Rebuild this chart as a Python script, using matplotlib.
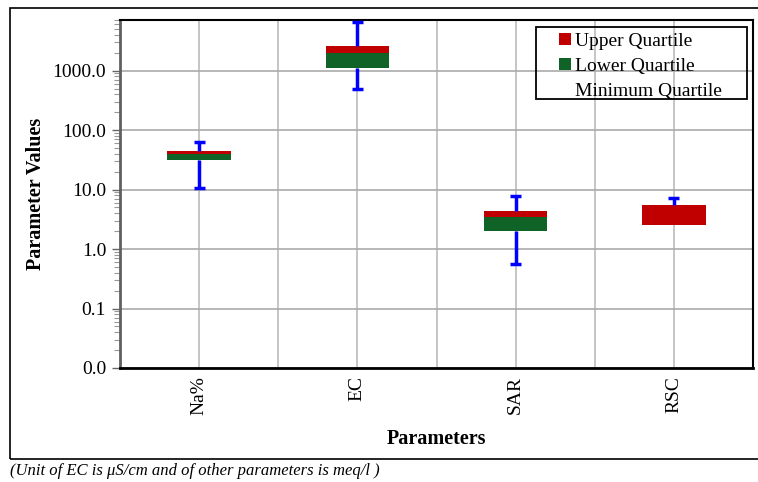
import numpy as np
import matplotlib
matplotlib.use('Agg')
import matplotlib.pyplot as plt
from matplotlib.patches import Patch, Rectangle
from matplotlib.ticker import FormatStrFormatter, LogLocator, FixedLocator

plt.rcParams['font.family'] = ['Liberation Serif', 'DejaVu Serif']

params = ['Na%', 'EC', 'SAR', 'RSC']
q1 = [31.3, 1089, 1.98, 2.55]
median = [40.1, 1941, 3.47, 2.55]
q3 = [45.0, 2643, 4.28, 5.4]
vmin = [10.8, 484, 0.567, 2.55]
vmax = [62.0, 6600, 7.93, 7.23]

red = '#C00000'
green = '#0F6326'
blue = '#0000FF'

fig = plt.figure(figsize=(7.58, 4.82), dpi=100)
ax = fig.add_axes([120/758, 1-368/482, 633/758, 348/482])

x = np.arange(len(params))
q1 = np.array(q1); median = np.array(median); q3 = np.array(q3)
vmin = np.array(vmin); vmax = np.array(vmax)

ax.bar(x, median - q1, bottom=q1, width=0.4, color=green, zorder=2)
ax.bar(x, q3 - median, bottom=median, width=0.4, color=red, zorder=2)

# whiskers: Q3 -> max and Q1 -> min, with caps only at the far end
cap = 0.035
up = vmax > q3
ax.vlines(x[up], q3[up], vmax[up], color=blue, linewidth=2.5, zorder=3)
ax.hlines(vmax[up], x[up] - cap, x[up] + cap, color=blue, linewidth=2.5, zorder=3)
lo = vmin < q1
ax.vlines(x[lo], vmin[lo], q1[lo], color=blue, linewidth=2.5, zorder=3)
ax.hlines(vmin[lo], x[lo] - cap, x[lo] + cap, color=blue, linewidth=2.5, zorder=3)

ax.set_yscale('log')
ax.set_ylim(0.01, 7100)
ax.set_xlim(-0.5, 3.5)
ax.yaxis.set_major_locator(FixedLocator([0.01, 0.1, 1, 10, 100, 1000]))
ax.yaxis.set_major_formatter(FormatStrFormatter('%.1f'))
ax.yaxis.set_minor_locator(LogLocator(base=10, subs=np.arange(2, 10), numticks=20))
ax.tick_params(axis='y', which='major', length=6, width=1, color='#666666', labelsize=14, pad=4)
ax.tick_params(axis='y', which='minor', length=4, width=0.8, color='#999999')

ax.set_xticks(x)
ax.set_xticklabels(params, rotation=90, fontsize=14)
ax.set_xticks([0.5, 1.5, 2.5], minor=True)
ax.tick_params(axis='x', which='both', length=0, pad=6)

ax.grid(True, which='major', axis='y', color='#AAAAAA', linewidth=1.2, zorder=0)
ax.grid(True, which='both', axis='x', color='#BBBBBB', linewidth=1.2, zorder=0)
ax.set_axisbelow(True)

for s in ['top', 'right', 'bottom']:
    ax.spines[s].set_color('black')
    ax.spines[s].set_linewidth(1.5)
ax.spines['bottom'].set_linewidth(2)
ax.spines['left'].set_color('#606060')
ax.spines['left'].set_linewidth(2)

ax.set_ylabel('Parameter Values', fontsize=14.5, fontweight='bold', labelpad=5)
ax.set_xlabel('Parameters', fontsize=14.5, fontweight='bold', labelpad=10)

handles = [Patch(facecolor=red, edgecolor='none', label='Upper Quartile'),
           Patch(facecolor=green, edgecolor='none', label='Lower Quartile'),
           Patch(facecolor='none', edgecolor='none', label='Minimum Quartile')]
ax.legend(handles=handles, loc='upper left',
          bbox_to_anchor=((557 - 120) / 633, (368 - 31) / 348),
          fontsize=14, frameon=False, handlelength=0.6,
          handleheight=0.6, handletextpad=0.25, labelspacing=0.4,
          borderpad=0.1, borderaxespad=0)
ax.add_patch(Rectangle(((536 - 120) / 633, (368 - 99) / 348), 211 / 633, 72 / 348,
                       transform=ax.transAxes, fill=False, edgecolor='black',
                       linewidth=1.3, zorder=5))

fig.patches.append(Rectangle((10/758, 1-459/482), 800/758, 451/482,
                             transform=fig.transFigure, fill=False,
                             edgecolor='black', linewidth=1.2))
fig.text(10/758, 1-471/482, '(Unit of EC is \u03bcS/cm and of other parameters is meq/l )',
         fontsize=12, fontstyle='italic', va='center', ha='left')

fig.savefig('out.png', dpi=100)
